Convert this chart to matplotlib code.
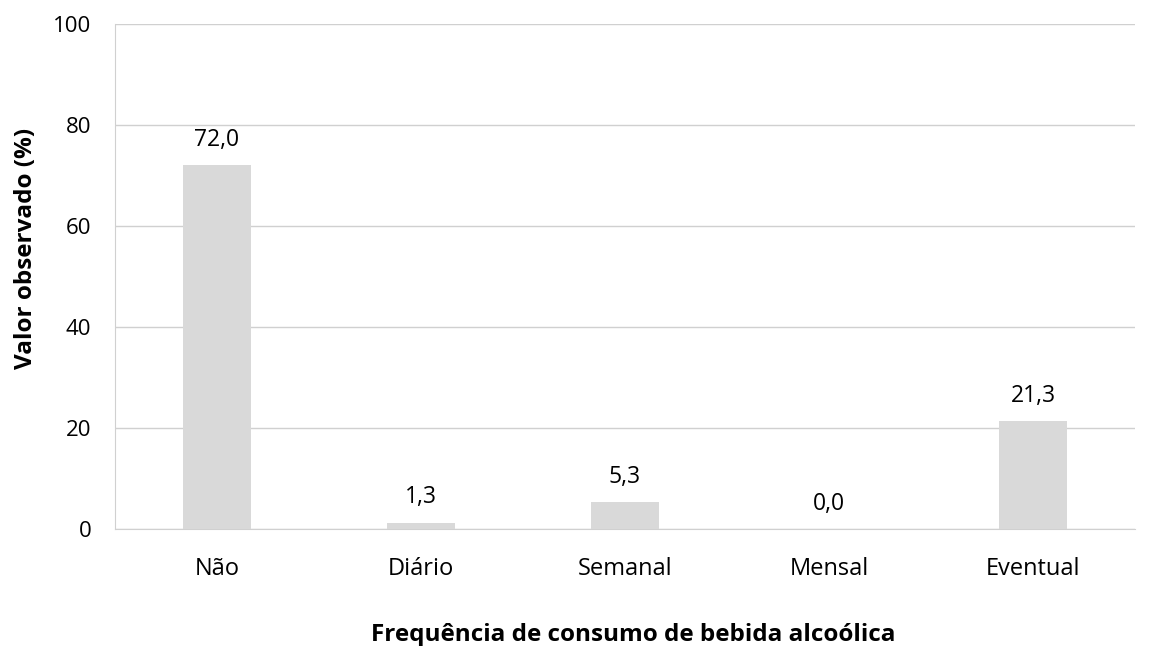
import matplotlib
matplotlib.use("Agg")
import matplotlib.pyplot as plt

# dados
categorias = ["Não", "Diário", "Semanal", "Mensal", "Eventual"]
valores = [72.0, 1.3, 5.3, 0.0, 21.3]
rotulos = ["72,0", "1,3", "5,3", "0,0", "21,3"]
yticks = [0, 20, 40, 60, 80, 100]

plt.rcParams['font.family'] = ['Open Sans', 'DejaVu Sans']

fig = plt.figure(figsize=(11.5, 6.46), dpi=100)
ax = fig.add_axes([0.1, 0.181, 0.887, 0.782])

x = range(len(categorias))
ax.bar(x, valores, width=0.33, color="#D9D9D9", zorder=3)

for i, v in enumerate(valores):
    ax.text(i, v + 2.6, rotulos[i], ha='center', va='bottom', fontsize=16.5, color="#000000")

ax.set_ylim(0, 100)
ax.set_xlim(-0.5, len(categorias) - 0.5)
ax.set_yticks(yticks)
ax.set_yticklabels([str(t) for t in yticks], fontsize=16)
ax.set_xticks(list(x))
ax.set_xticklabels(categorias, fontsize=17)
ax.tick_params(axis='both', length=0, colors="#000000")
ax.tick_params(axis='x', pad=20)
ax.tick_params(axis='y', pad=17)

ax.grid(axis='y', color="#D0D0D0", linewidth=1, zorder=0)
for s in ["top", "right"]:
    ax.spines[s].set_visible(False)
ax.spines["left"].set_color("#D0D0D0")
ax.spines["bottom"].set_color("#D0D0D0")

ax.set_xlabel("Frequência de consumo de bebida alcoólica", fontsize=17.5, fontweight='bold')
ax.set_ylabel("Valor observado (%)", fontsize=17.5, fontweight='bold')
ax.xaxis.set_label_coords(0.508, -0.185)
ax.yaxis.set_label_coords(-0.075, 0.556)

fig.savefig("out.png", dpi=100)
